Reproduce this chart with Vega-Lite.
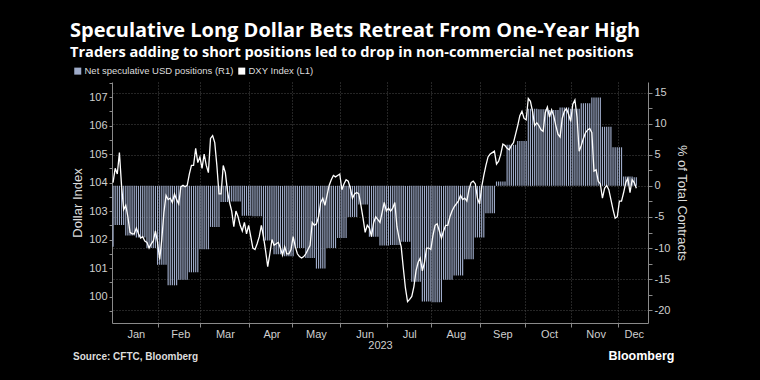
{
"$schema": "https://vega.github.io/schema/vega-lite/v6.json",
"width": 536, "height": 241,
"autosize": "none",
"padding": {"left": 112, "top": 82, "right": 112, "bottom": 57},
"background": "#000000",
"config": {
  "view": {"stroke": null},
  "font": "Liberation Sans",
  "axis": {"labelColor": "#cfcfcf", "labelFontSize": 11, "titleColor": "#dddddd", "titleFontWeight": "normal", "titleFontSize": 13, "domainColor": "#8a8a8a", "tickColor": "#8a8a8a", "gridColor": "#4a4a4a", "gridDash": [1, 2], "labelFont": "Liberation Sans", "titleFont": "Liberation Sans"}
},
"title": {"text": "Speculative Long Dollar Bets Retreat From One-Year High", "subtitle": "Traders adding to short positions led to drop in non-commercial net positions", "anchor": "start", "frame": "group", "dx": -42, "offset": 6, "font": "Open Sans", "fontSize": 20, "fontWeight": "bold", "color": "#ffffff", "subtitleFont": "Open Sans", "subtitleFontSize": 14.6, "subtitleFontWeight": "bold", "subtitleColor": "#ffffff", "subtitlePadding": 4},
"data": {"values": [
{"date":"2023-01-02","dxy":104.0,"pos":-9.8},
{"date":"2023-01-03","dxy":104.5,"pos":-6.3},
{"date":"2023-01-04","dxy":104.3,"pos":-6.3},
{"date":"2023-01-05","dxy":105.05,"pos":-6.3},
{"date":"2023-01-06","dxy":103.9,"pos":-6.3},
{"date":"2023-01-09","dxy":103.05,"pos":-6.3},
{"date":"2023-01-10","dxy":103.2,"pos":-8.0},
{"date":"2023-01-11","dxy":102.8,"pos":-8.0},
{"date":"2023-01-12","dxy":102.25,"pos":-8.0},
{"date":"2023-01-13","dxy":102.2,"pos":-8.0},
{"date":"2023-01-16","dxy":102.2,"pos":-8.0},
{"date":"2023-01-17","dxy":102.4,"pos":-8.3},
{"date":"2023-01-18","dxy":102.2,"pos":-8.3},
{"date":"2023-01-19","dxy":102.05,"pos":-8.3},
{"date":"2023-01-20","dxy":102.1,"pos":-8.3},
{"date":"2023-01-23","dxy":101.95,"pos":-8.3},
{"date":"2023-01-24","dxy":101.9,"pos":-10.0},
{"date":"2023-01-25","dxy":101.7,"pos":-10.0},
{"date":"2023-01-26","dxy":101.85,"pos":-10.0},
{"date":"2023-01-27","dxy":101.95,"pos":-10.0},
{"date":"2023-01-30","dxy":102.3,"pos":-10.0},
{"date":"2023-01-31","dxy":101.9,"pos":-12.7},
{"date":"2023-02-01","dxy":101.3,"pos":-12.7},
{"date":"2023-02-02","dxy":102.0,"pos":-12.7},
{"date":"2023-02-03","dxy":102.95,"pos":-12.7},
{"date":"2023-02-06","dxy":103.55,"pos":-12.7},
{"date":"2023-02-07","dxy":103.4,"pos":-16.0},
{"date":"2023-02-08","dxy":103.45,"pos":-16.0},
{"date":"2023-02-09","dxy":103.3,"pos":-16.0},
{"date":"2023-02-10","dxy":103.6,"pos":-16.0},
{"date":"2023-02-13","dxy":103.4,"pos":-16.0},
{"date":"2023-02-14","dxy":103.25,"pos":-15.1},
{"date":"2023-02-15","dxy":103.85,"pos":-15.1},
{"date":"2023-02-16","dxy":103.9,"pos":-15.1},
{"date":"2023-02-17","dxy":103.85,"pos":-15.1},
{"date":"2023-02-20","dxy":103.9,"pos":-15.1},
{"date":"2023-02-21","dxy":104.3,"pos":-13.9},
{"date":"2023-02-22","dxy":104.6,"pos":-13.9},
{"date":"2023-02-23","dxy":104.6,"pos":-13.9},
{"date":"2023-02-24","dxy":105.2,"pos":-13.9},
{"date":"2023-02-27","dxy":104.7,"pos":-13.9},
{"date":"2023-02-28","dxy":104.9,"pos":-10.2},
{"date":"2023-03-01","dxy":104.5,"pos":-10.2},
{"date":"2023-03-02","dxy":105.0,"pos":-10.2},
{"date":"2023-03-03","dxy":104.6,"pos":-10.2},
{"date":"2023-03-06","dxy":104.35,"pos":-10.2},
{"date":"2023-03-07","dxy":105.55,"pos":-6.6},
{"date":"2023-03-08","dxy":105.65,"pos":-6.6},
{"date":"2023-03-09","dxy":105.4,"pos":-6.6},
{"date":"2023-03-10","dxy":104.6,"pos":-6.6},
{"date":"2023-03-13","dxy":103.6,"pos":-6.6},
{"date":"2023-03-14","dxy":103.6,"pos":-2.6},
{"date":"2023-03-15","dxy":104.6,"pos":-2.6},
{"date":"2023-03-16","dxy":104.35,"pos":-2.6},
{"date":"2023-03-17","dxy":103.7,"pos":-2.6},
{"date":"2023-03-20","dxy":103.3,"pos":-2.6},
{"date":"2023-03-21","dxy":103.0,"pos":-2.5},
{"date":"2023-03-22","dxy":102.45,"pos":-2.5},
{"date":"2023-03-23","dxy":103.0,"pos":-2.5},
{"date":"2023-03-24","dxy":102.8,"pos":-2.5},
{"date":"2023-03-27","dxy":102.5,"pos":-2.5},
{"date":"2023-03-28","dxy":102.3,"pos":-4.8},
{"date":"2023-03-29","dxy":102.6,"pos":-4.8},
{"date":"2023-03-30","dxy":102.2,"pos":-4.8},
{"date":"2023-03-31","dxy":102.5,"pos":-4.8},
{"date":"2023-04-03","dxy":102.1,"pos":-4.8},
{"date":"2023-04-04","dxy":101.7,"pos":-4.9},
{"date":"2023-04-05","dxy":101.65,"pos":-4.9},
{"date":"2023-04-06","dxy":101.85,"pos":-4.9},
{"date":"2023-04-07","dxy":102.1,"pos":-4.9},
{"date":"2023-04-10","dxy":102.5,"pos":-4.9},
{"date":"2023-04-11","dxy":102.1,"pos":-8.8},
{"date":"2023-04-12","dxy":101.6,"pos":-8.8},
{"date":"2023-04-13","dxy":101.05,"pos":-8.8},
{"date":"2023-04-14","dxy":101.5,"pos":-8.8},
{"date":"2023-04-17","dxy":102.0,"pos":-8.8},
{"date":"2023-04-18","dxy":101.8,"pos":-11.0},
{"date":"2023-04-19","dxy":101.85,"pos":-11.0},
{"date":"2023-04-20","dxy":101.9,"pos":-11.0},
{"date":"2023-04-21","dxy":101.7,"pos":-11.0},
{"date":"2023-04-24","dxy":101.45,"pos":-11.0},
{"date":"2023-04-25","dxy":101.75,"pos":-11.3},
{"date":"2023-04-26","dxy":101.5,"pos":-11.3},
{"date":"2023-04-27","dxy":101.5,"pos":-11.3},
{"date":"2023-04-28","dxy":101.65,"pos":-11.3},
{"date":"2023-05-01","dxy":102.1,"pos":-11.3},
{"date":"2023-05-02","dxy":101.75,"pos":-10.0},
{"date":"2023-05-03","dxy":101.5,"pos":-10.0},
{"date":"2023-05-04","dxy":101.4,"pos":-10.0},
{"date":"2023-05-05","dxy":101.35,"pos":-10.0},
{"date":"2023-05-08","dxy":101.4,"pos":-10.0},
{"date":"2023-05-09","dxy":101.5,"pos":-11.6},
{"date":"2023-05-10","dxy":101.65,"pos":-11.6},
{"date":"2023-05-11","dxy":101.8,"pos":-11.6},
{"date":"2023-05-12","dxy":102.6,"pos":-11.6},
{"date":"2023-05-15","dxy":102.5,"pos":-11.6},
{"date":"2023-05-16","dxy":102.55,"pos":-13.3},
{"date":"2023-05-17","dxy":102.8,"pos":-13.3},
{"date":"2023-05-18","dxy":103.3,"pos":-13.3},
{"date":"2023-05-19","dxy":103.45,"pos":-13.3},
{"date":"2023-05-22","dxy":103.2,"pos":-13.3},
{"date":"2023-05-23","dxy":103.55,"pos":-10.0},
{"date":"2023-05-24","dxy":103.9,"pos":-10.0},
{"date":"2023-05-25","dxy":104.1,"pos":-10.0},
{"date":"2023-05-26","dxy":104.25,"pos":-10.0},
{"date":"2023-05-29","dxy":104.2,"pos":-10.0},
{"date":"2023-05-30","dxy":104.25,"pos":-8.4},
{"date":"2023-05-31","dxy":104.3,"pos":-8.4},
{"date":"2023-06-01","dxy":103.75,"pos":-8.4},
{"date":"2023-06-02","dxy":103.95,"pos":-8.4},
{"date":"2023-06-05","dxy":104.1,"pos":-8.4},
{"date":"2023-06-06","dxy":104.05,"pos":-5.0},
{"date":"2023-06-07","dxy":103.8,"pos":-5.0},
{"date":"2023-06-08","dxy":103.45,"pos":-5.0},
{"date":"2023-06-09","dxy":103.6,"pos":-5.0},
{"date":"2023-06-12","dxy":103.65,"pos":-5.0},
{"date":"2023-06-13","dxy":103.6,"pos":-3.0},
{"date":"2023-06-14","dxy":103.2,"pos":-3.0},
{"date":"2023-06-15","dxy":102.75,"pos":-3.0},
{"date":"2023-06-16","dxy":102.25,"pos":-3.0},
{"date":"2023-06-19","dxy":102.5,"pos":-3.0},
{"date":"2023-06-20","dxy":102.4,"pos":-8.2},
{"date":"2023-06-21","dxy":102.1,"pos":-8.2},
{"date":"2023-06-22","dxy":102.6,"pos":-8.2},
{"date":"2023-06-23","dxy":102.8,"pos":-8.2},
{"date":"2023-06-26","dxy":102.7,"pos":-8.2},
{"date":"2023-06-27","dxy":102.6,"pos":-9.6},
{"date":"2023-06-28","dxy":102.95,"pos":-9.6},
{"date":"2023-06-29","dxy":103.3,"pos":-9.6},
{"date":"2023-06-30","dxy":103.0,"pos":-9.6},
{"date":"2023-07-03","dxy":103.1,"pos":-9.6},
{"date":"2023-07-04","dxy":103.0,"pos":-9.5},
{"date":"2023-07-05","dxy":103.1,"pos":-9.5},
{"date":"2023-07-06","dxy":103.3,"pos":-9.5},
{"date":"2023-07-07","dxy":102.45,"pos":-9.5},
{"date":"2023-07-10","dxy":102.05,"pos":-9.5},
{"date":"2023-07-11","dxy":101.75,"pos":-9.0},
{"date":"2023-07-12","dxy":101.0,"pos":-9.0},
{"date":"2023-07-13","dxy":100.3,"pos":-9.0},
{"date":"2023-07-14","dxy":99.82,"pos":-9.0},
{"date":"2023-07-17","dxy":99.9,"pos":-9.0},
{"date":"2023-07-18","dxy":100.0,"pos":-15.4},
{"date":"2023-07-19","dxy":100.35,"pos":-15.4},
{"date":"2023-07-20","dxy":100.9,"pos":-15.4},
{"date":"2023-07-21","dxy":101.2,"pos":-15.4},
{"date":"2023-07-24","dxy":101.35,"pos":-15.4},
{"date":"2023-07-25","dxy":100.9,"pos":-18.6},
{"date":"2023-07-26","dxy":101.2,"pos":-18.6},
{"date":"2023-07-27","dxy":101.7,"pos":-18.6},
{"date":"2023-07-28","dxy":101.7,"pos":-18.6},
{"date":"2023-07-31","dxy":101.65,"pos":-18.6},
{"date":"2023-08-01","dxy":102.15,"pos":-18.7},
{"date":"2023-08-02","dxy":102.5,"pos":-18.7},
{"date":"2023-08-03","dxy":102.55,"pos":-18.7},
{"date":"2023-08-04","dxy":102.3,"pos":-18.7},
{"date":"2023-08-07","dxy":102.05,"pos":-18.7},
{"date":"2023-08-08","dxy":102.3,"pos":-15.1},
{"date":"2023-08-09","dxy":102.5,"pos":-15.1},
{"date":"2023-08-10","dxy":102.5,"pos":-15.1},
{"date":"2023-08-11","dxy":102.8,"pos":-15.1},
{"date":"2023-08-14","dxy":103.0,"pos":-15.1},
{"date":"2023-08-15","dxy":103.15,"pos":-14.4},
{"date":"2023-08-16","dxy":103.25,"pos":-14.4},
{"date":"2023-08-17","dxy":103.35,"pos":-14.4},
{"date":"2023-08-18","dxy":103.55,"pos":-14.4},
{"date":"2023-08-21","dxy":103.4,"pos":-14.4},
{"date":"2023-08-22","dxy":103.45,"pos":-11.8},
{"date":"2023-08-23","dxy":103.35,"pos":-11.8},
{"date":"2023-08-24","dxy":103.75,"pos":-11.8},
{"date":"2023-08-25","dxy":104.0,"pos":-11.8},
{"date":"2023-08-28","dxy":104.05,"pos":-11.8},
{"date":"2023-08-29","dxy":103.95,"pos":-8.3},
{"date":"2023-08-30","dxy":103.45,"pos":-8.3},
{"date":"2023-08-31","dxy":103.25,"pos":-8.3},
{"date":"2023-09-01","dxy":103.85,"pos":-8.3},
{"date":"2023-09-04","dxy":104.25,"pos":-8.3},
{"date":"2023-09-05","dxy":104.6,"pos":-4.4},
{"date":"2023-09-06","dxy":104.9,"pos":-4.4},
{"date":"2023-09-07","dxy":105.0,"pos":-4.4},
{"date":"2023-09-08","dxy":105.05,"pos":-4.4},
{"date":"2023-09-11","dxy":105.1,"pos":-4.4},
{"date":"2023-09-12","dxy":104.65,"pos":0.7},
{"date":"2023-09-13","dxy":104.75,"pos":0.7},
{"date":"2023-09-14","dxy":105.0,"pos":0.7},
{"date":"2023-09-15","dxy":105.35,"pos":0.7},
{"date":"2023-09-18","dxy":105.3,"pos":0.7},
{"date":"2023-09-19","dxy":105.2,"pos":6.6},
{"date":"2023-09-20","dxy":105.15,"pos":6.6},
{"date":"2023-09-21","dxy":105.3,"pos":6.6},
{"date":"2023-09-22","dxy":105.4,"pos":6.6},
{"date":"2023-09-25","dxy":105.7,"pos":6.6},
{"date":"2023-09-26","dxy":106.0,"pos":7.2},
{"date":"2023-09-27","dxy":106.35,"pos":7.2},
{"date":"2023-09-28","dxy":106.5,"pos":7.2},
{"date":"2023-09-29","dxy":106.25,"pos":7.2},
{"date":"2023-10-02","dxy":106.2,"pos":7.2},
{"date":"2023-10-03","dxy":106.95,"pos":12.4},
{"date":"2023-10-04","dxy":106.85,"pos":12.4},
{"date":"2023-10-05","dxy":106.5,"pos":12.4},
{"date":"2023-10-06","dxy":106.0,"pos":12.4},
{"date":"2023-10-09","dxy":106.1,"pos":12.4},
{"date":"2023-10-10","dxy":106.0,"pos":12.3},
{"date":"2023-10-11","dxy":105.85,"pos":12.3},
{"date":"2023-10-12","dxy":105.8,"pos":12.3},
{"date":"2023-10-13","dxy":106.45,"pos":12.3},
{"date":"2023-10-16","dxy":106.65,"pos":12.3},
{"date":"2023-10-17","dxy":106.3,"pos":12.2},
{"date":"2023-10-18","dxy":106.55,"pos":12.2},
{"date":"2023-10-19","dxy":106.35,"pos":12.2},
{"date":"2023-10-20","dxy":106.0,"pos":12.2},
{"date":"2023-10-23","dxy":105.7,"pos":12.2},
{"date":"2023-10-24","dxy":105.6,"pos":12.6},
{"date":"2023-10-25","dxy":106.25,"pos":12.6},
{"date":"2023-10-26","dxy":106.5,"pos":12.6},
{"date":"2023-10-27","dxy":106.6,"pos":12.6},
{"date":"2023-10-30","dxy":106.4,"pos":12.6},
{"date":"2023-10-31","dxy":106.15,"pos":12.4},
{"date":"2023-11-01","dxy":106.75,"pos":12.4},
{"date":"2023-11-02","dxy":106.9,"pos":12.4},
{"date":"2023-11-03","dxy":106.3,"pos":12.4},
{"date":"2023-11-06","dxy":105.1,"pos":12.4},
{"date":"2023-11-07","dxy":105.3,"pos":13.3},
{"date":"2023-11-08","dxy":105.55,"pos":13.3},
{"date":"2023-11-09","dxy":105.75,"pos":13.3},
{"date":"2023-11-10","dxy":105.85,"pos":13.3},
{"date":"2023-11-13","dxy":105.9,"pos":13.3},
{"date":"2023-11-14","dxy":105.75,"pos":14.2},
{"date":"2023-11-15","dxy":104.4,"pos":14.2},
{"date":"2023-11-16","dxy":104.45,"pos":14.2},
{"date":"2023-11-17","dxy":104.05,"pos":14.2},
{"date":"2023-11-20","dxy":103.95,"pos":14.2},
{"date":"2023-11-21","dxy":103.45,"pos":9.5},
{"date":"2023-11-22","dxy":103.8,"pos":9.5},
{"date":"2023-11-23","dxy":103.9,"pos":9.5},
{"date":"2023-11-24","dxy":103.75,"pos":9.5},
{"date":"2023-11-27","dxy":103.4,"pos":9.5},
{"date":"2023-11-28","dxy":103.05,"pos":6.2},
{"date":"2023-11-29","dxy":102.75,"pos":6.2},
{"date":"2023-11-30","dxy":102.8,"pos":6.2},
{"date":"2023-12-01","dxy":103.35,"pos":6.2},
{"date":"2023-12-04","dxy":103.35,"pos":6.2},
{"date":"2023-12-05","dxy":103.65,"pos":1.5},
{"date":"2023-12-06","dxy":104.0,"pos":1.5},
{"date":"2023-12-07","dxy":104.15,"pos":1.5},
{"date":"2023-12-08","dxy":103.65,"pos":1.5},
{"date":"2023-12-11","dxy":104.1,"pos":1.5},
{"date":"2023-12-12","dxy":104.0,"pos":1.4},
{"date":"2023-12-13","dxy":103.8,"pos":1.4}
]},
"layer": [
  {
    "mark": {"type": "bar", "width": {"band": 0.55}},
    "encoding": {
      "x": {"field": "date", "type": "ordinal", "sort": "ascending",
        "scale": {"paddingInner": 0, "paddingOuter": 0, "domain": ["2023-01-02","2023-01-03","2023-01-04","2023-01-05","2023-01-06","2023-01-09","2023-01-10","2023-01-11","2023-01-12","2023-01-13","2023-01-16","2023-01-17","2023-01-18","2023-01-19","2023-01-20","2023-01-23","2023-01-24","2023-01-25","2023-01-26","2023-01-27","2023-01-30","2023-01-31","2023-02-01","2023-02-02","2023-02-03","2023-02-06","2023-02-07","2023-02-08","2023-02-09","2023-02-10","2023-02-13","2023-02-14","2023-02-15","2023-02-16","2023-02-17","2023-02-20","2023-02-21","2023-02-22","2023-02-23","2023-02-24","2023-02-27","2023-02-28","2023-03-01","2023-03-02","2023-03-03","2023-03-06","2023-03-07","2023-03-08","2023-03-09","2023-03-10","2023-03-13","2023-03-14","2023-03-15","2023-03-16","2023-03-17","2023-03-20","2023-03-21","2023-03-22","2023-03-23","2023-03-24","2023-03-27","2023-03-28","2023-03-29","2023-03-30","2023-03-31","2023-04-03","2023-04-04","2023-04-05","2023-04-06","2023-04-07","2023-04-10","2023-04-11","2023-04-12","2023-04-13","2023-04-14","2023-04-17","2023-04-18","2023-04-19","2023-04-20","2023-04-21","2023-04-24","2023-04-25","2023-04-26","2023-04-27","2023-04-28","2023-05-01","2023-05-02","2023-05-03","2023-05-04","2023-05-05","2023-05-08","2023-05-09","2023-05-10","2023-05-11","2023-05-12","2023-05-15","2023-05-16","2023-05-17","2023-05-18","2023-05-19","2023-05-22","2023-05-23","2023-05-24","2023-05-25","2023-05-26","2023-05-29","2023-05-30","2023-05-31","2023-06-01","2023-06-02","2023-06-05","2023-06-06","2023-06-07","2023-06-08","2023-06-09","2023-06-12","2023-06-13","2023-06-14","2023-06-15","2023-06-16","2023-06-19","2023-06-20","2023-06-21","2023-06-22","2023-06-23","2023-06-26","2023-06-27","2023-06-28","2023-06-29","2023-06-30","2023-07-03","2023-07-04","2023-07-05","2023-07-06","2023-07-07","2023-07-10","2023-07-11","2023-07-12","2023-07-13","2023-07-14","2023-07-17","2023-07-18","2023-07-19","2023-07-20","2023-07-21","2023-07-24","2023-07-25","2023-07-26","2023-07-27","2023-07-28","2023-07-31","2023-08-01","2023-08-02","2023-08-03","2023-08-04","2023-08-07","2023-08-08","2023-08-09","2023-08-10","2023-08-11","2023-08-14","2023-08-15","2023-08-16","2023-08-17","2023-08-18","2023-08-21","2023-08-22","2023-08-23","2023-08-24","2023-08-25","2023-08-28","2023-08-29","2023-08-30","2023-08-31","2023-09-01","2023-09-04","2023-09-05","2023-09-06","2023-09-07","2023-09-08","2023-09-11","2023-09-12","2023-09-13","2023-09-14","2023-09-15","2023-09-18","2023-09-19","2023-09-20","2023-09-21","2023-09-22","2023-09-25","2023-09-26","2023-09-27","2023-09-28","2023-09-29","2023-10-02","2023-10-03","2023-10-04","2023-10-05","2023-10-06","2023-10-09","2023-10-10","2023-10-11","2023-10-12","2023-10-13","2023-10-16","2023-10-17","2023-10-18","2023-10-19","2023-10-20","2023-10-23","2023-10-24","2023-10-25","2023-10-26","2023-10-27","2023-10-30","2023-10-31","2023-11-01","2023-11-02","2023-11-03","2023-11-06","2023-11-07","2023-11-08","2023-11-09","2023-11-10","2023-11-13","2023-11-14","2023-11-15","2023-11-16","2023-11-17","2023-11-20","2023-11-21","2023-11-22","2023-11-23","2023-11-24","2023-11-27","2023-11-28","2023-11-29","2023-11-30","2023-12-01","2023-12-04","2023-12-05","2023-12-06","2023-12-07","2023-12-08","2023-12-11","2023-12-12","2023-12-13","2023-12-14","2023-12-15","2023-12-18","2023-12-19","2023-12-20"]},
        "axis": {"orient": "bottom", "values": ["2023-02-01","2023-03-01","2023-04-03","2023-05-01","2023-06-01","2023-07-03","2023-08-01","2023-09-01","2023-10-02","2023-11-01","2023-12-01"], "bandPosition": 0, "labels": false, "ticks": true, "tickSize": 4, "grid": true, "domain": true, "title": null}},
      "y": {"field": "pos", "type": "quantitative",
        "scale": {"domain": [-22.05, 16.7], "nice": false, "zero": false},
        "axis": {"orient": "right", "values": [-20, -17.5, -15, -12.5, -10, -7.5, -5, -2.5, 0, 2.5, 5, 7.5, 10, 12.5, 15], "format": "d", "labelOverlap": false, "labelExpr": "datum.value % 5 === 0 ? replace(datum.label, '\u2212', '-') : ''", "grid": true, "gridOpacity": {"condition": {"test": "datum.value % 5 === 0", "value": 1}, "value": 0}, "tickSize": 4, "labelPadding": 2, "title": "% of Total Contracts", "titlePadding": 5}},
      "color": {"datum": "Net speculative USD positions (R1)", "type": "nominal",
        "scale": {"domain": ["Net speculative USD positions (R1)", "DXY Index (L1)"], "range": ["#9eabc9", "#ffffff"]},
        "legend": {"orient": "none", "legendX": -39, "legendY": -16, "direction": "horizontal", "title": null, "symbolType": "square", "symbolSize": 49, "symbolStrokeWidth": 0, "labelFontSize": 9.5, "labelColor": "#dddddd", "labelFont": "Liberation Sans", "columnPadding": 3, "labelOffset": 2,
          "encode": {"symbols": {"update": {"fill": {"scale": "color", "field": "value"}, "strokeWidth": {"value": 0}, "opacity": {"value": 1}}}}}}
    }
  },
  {
    "mark": {"type": "line", "strokeWidth": 1.3},
    "encoding": {
      "x": {"field": "date", "type": "ordinal", "sort": "ascending",
        "axis": {"orient": "bottom", "values": ["2023-01-17","2023-02-15","2023-03-16","2023-04-17","2023-05-16","2023-06-16","2023-07-17","2023-08-16","2023-09-15","2023-10-17","2023-11-16","2023-12-12"], "bandPosition": 0, "labelExpr": "utcFormat(toDate(datum.value), '%b')", "labelAngle": 0, "labelOverlap": false, "ticks": false, "grid": false, "domain": false, "labelPadding": 5, "title": "2023", "titleFontSize": 11, "titleColor": "#cfcfcf", "titlePadding": 0}},
      "y": {"field": "dxy", "type": "quantitative",
        "scale": {"domain": [99.07, 107.53], "nice": false, "zero": false},
        "axis": {"orient": "left", "values": [99.5, 100, 100.5, 101, 101.5, 102, 102.5, 103, 103.5, 104, 104.5, 105, 105.5, 106, 106.5, 107, 107.5], "format": ".0f", "labelOverlap": false, "labelOpacity": {"condition": {"test": "datum.value % 1 !== 0", "value": 0}, "value": 1}, "grid": false, "ticks": true, "tickSize": 3, "labelPadding": 2, "title": "Dollar Index", "titlePadding": 4}},
      "color": {"datum": "DXY Index (L1)", "type": "nominal"}
    }
  },
  {
    "data": {"values": [{"label": "Source: CFTC, Bloomberg"}]},
    "mark": {"type": "text", "align": "left", "baseline": "middle", "fontWeight": "bold", "fontSize": 10, "color": "#dddddd", "dx": -40},
    "encoding": {
      "text": {"field": "label"},
      "x": {"datum": "2023-01-02", "type": "ordinal", "axis": null},
      "y": {"datum": -27.5, "type": "quantitative", "scale": {"domain": [-22.05, 16.7], "nice": false, "zero": false}, "axis": null}
    }
  },
  {
    "data": {"values": [{"label": "Bloomberg"}]},
    "mark": {"type": "text", "align": "center", "baseline": "middle", "fontWeight": "bold", "fontSize": 12.5, "color": "#ffffff", "dx": 3},
    "encoding": {
      "text": {"field": "label"},
      "x": {"datum": "2023-12-14", "type": "ordinal", "axis": null},
      "y": {"datum": -27.4, "type": "quantitative", "scale": {"domain": [-22.05, 16.7], "nice": false, "zero": false}, "axis": null}
    }
  }
],
"resolve": {"scale": {"y": "independent"}, "axis": {"x": "independent", "y": "independent"}}
}
